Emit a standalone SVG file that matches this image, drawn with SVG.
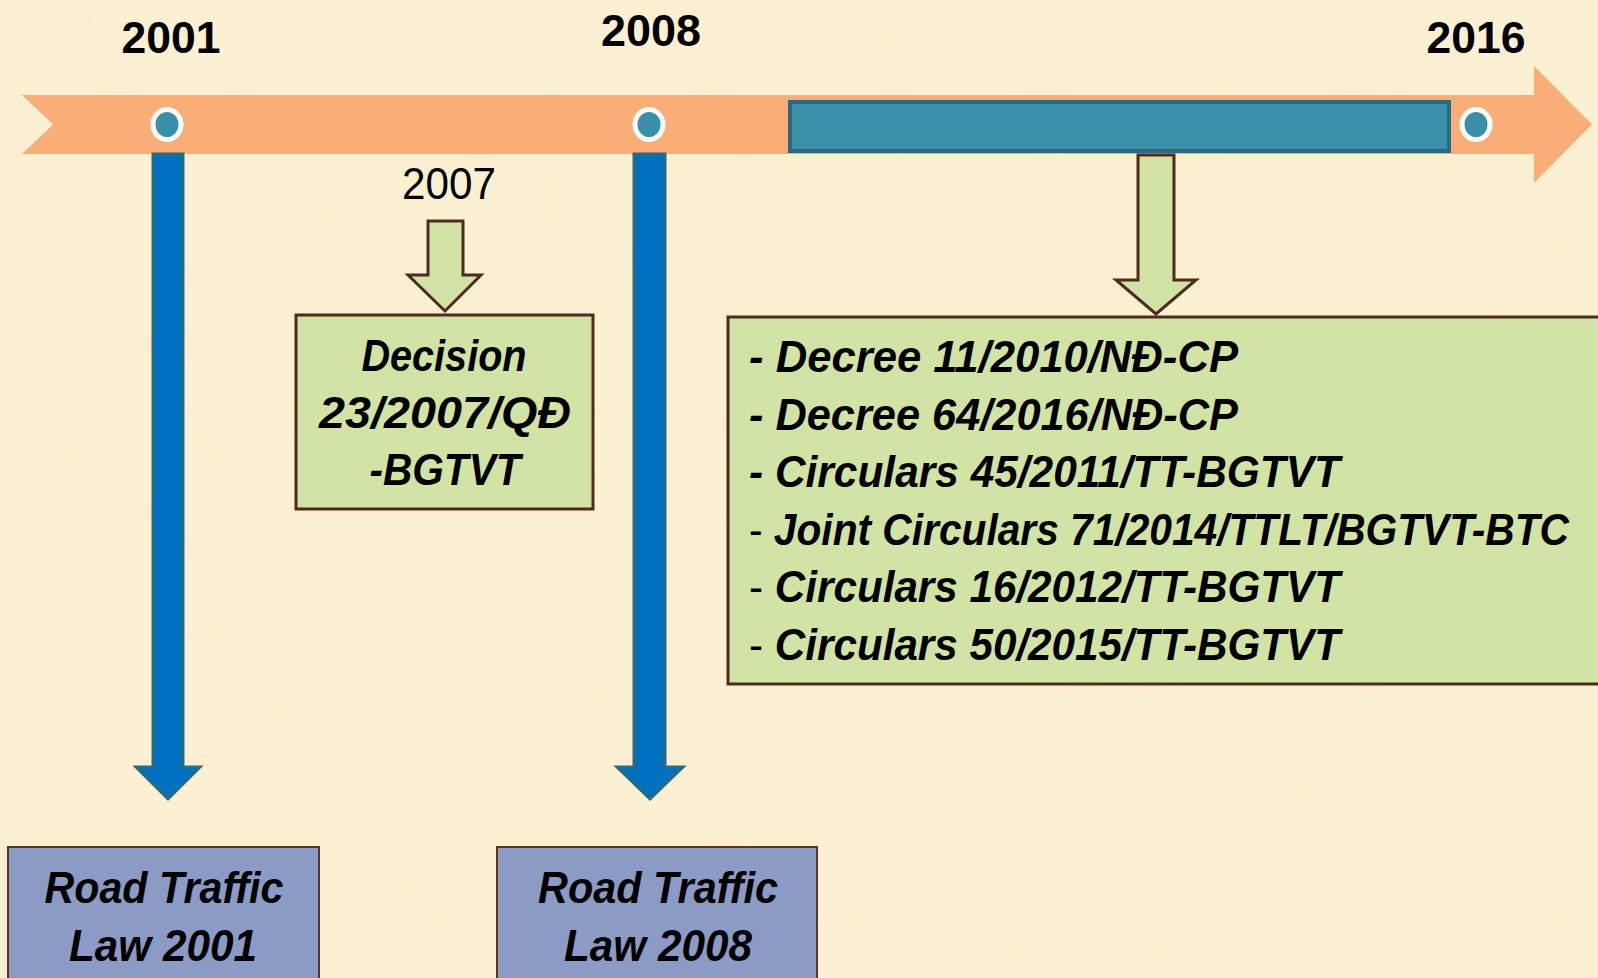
<svg xmlns="http://www.w3.org/2000/svg" width="1598" height="978" viewBox="0 0 1598 978">
<defs>
<filter id="tex" x="0" y="0" width="100%" height="100%">
<feTurbulence type="fractalNoise" baseFrequency="0.012 0.03" numOctaves="3" seed="4" result="n"/>
<feColorMatrix in="n" type="matrix" values="0 0 0 0 0.98  0 0 0 0 0.90  0 0 0 0 0.72  0 0 0 0.35 0"/>
</filter>
<style>
.yr{font-family:"Liberation Sans",Arial,sans-serif;font-weight:bold;font-size:44px;fill:#000}
.t{font-family:"Liberation Sans",Arial,sans-serif;font-weight:bold;font-style:italic;font-size:45px;fill:#000}
.reg{font-weight:normal;font-style:normal}
.green{fill:#d1e3a5;stroke:#4f2b1f;stroke-width:3}
.blue{fill:#0070c0;stroke:#2b6b80;stroke-width:3}
.lav{fill:#8b9bc5;stroke:#5a3526;stroke-width:2}
.dot{fill:#3a8fa8;stroke:#fff;stroke-width:5}
</style>
</defs>
<rect width="1598" height="978" fill="#fcefd0"/>
<rect width="1598" height="978" filter="url(#tex)"/>

<g id="timeline">
<polygon points="22,95 1534,95 1534,66 1592,124.5 1534,183 1534,154 22,154 53,124.5" fill="#f9ae78"/>
<rect x="790" y="102" width="659" height="49" fill="#3b8fa8" stroke="#2a6a7e" stroke-width="4"/>
<ellipse class="dot" cx="167" cy="124.5" rx="14" ry="15"/>
<ellipse class="dot" cx="649" cy="124.5" rx="14" ry="15"/>
<ellipse class="dot" cx="1476" cy="124.5" rx="14" ry="15"/>
<text class="yr" x="171" y="53" text-anchor="middle" textLength="99" lengthAdjust="spacingAndGlyphs">2001</text>
<text class="yr" x="651" y="46" text-anchor="middle" textLength="100" lengthAdjust="spacingAndGlyphs">2008</text>
<text class="yr" x="1476" y="53" text-anchor="middle" textLength="99" lengthAdjust="spacingAndGlyphs">2016</text>
</g>

<g id="connectors">
<path class="blue" d="M153,154 L183,154 L183,767 L200,767 L168,799 L136,767 L153,767 Z"/>
<path class="blue" d="M634,154 L665,154 L665,767 L683,767 L650,799 L617,767 L634,767 Z"/>
<path class="green" d="M428,221 L463,221 L463,275 L481,275 L445,311 L408,275 L428,275 Z"/>
<path class="green" d="M1138,155 L1174,155 L1174,280 L1196,280 L1156,314 L1116,280 L1138,280 Z"/>
</g>

<g id="label-2007">
<text x="449" y="199" text-anchor="middle" font-family="Liberation Sans, Arial, sans-serif" font-size="44" fill="#000" textLength="94" lengthAdjust="spacingAndGlyphs">2007</text>
</g>

<g id="decision">
<rect class="green" x="296" y="315" width="297" height="194" stroke-width="2"/>
<text class="t" x="444" y="371" text-anchor="middle" textLength="165" lengthAdjust="spacingAndGlyphs">Decision</text>
<text class="t" x="445" y="428" text-anchor="middle" textLength="252" lengthAdjust="spacingAndGlyphs">23/2007/QĐ</text>
<text class="t" x="445" y="485" text-anchor="middle" textLength="151" lengthAdjust="spacingAndGlyphs">-BGTVT</text>
</g>

<g id="regulations">
<rect class="green" x="728" y="317" width="880" height="367" stroke-width="2"/>
<text class="t" x="749" y="372" textLength="489" lengthAdjust="spacingAndGlyphs">- Decree 11/2010/NĐ-CP</text>
<text class="t" x="749" y="430" textLength="489" lengthAdjust="spacingAndGlyphs">- Decree 64/2016/NĐ-CP</text>
<text class="t" x="749" y="487" textLength="591" lengthAdjust="spacingAndGlyphs">- Circulars 45/2011/TT-BGTVT</text>
<text class="t" x="749" y="545" textLength="820" lengthAdjust="spacingAndGlyphs"><tspan class="reg">-</tspan> Joint Circulars 71/2014/TTLT/BGTVT-BTC</text>
<text class="t" x="749" y="602" textLength="591" lengthAdjust="spacingAndGlyphs"><tspan class="reg">-</tspan> Circulars 16/2012/TT-BGTVT</text>
<text class="t" x="749" y="660" textLength="591" lengthAdjust="spacingAndGlyphs"><tspan class="reg">-</tspan> Circulars 50/2015/TT-BGTVT</text>
</g>

<g id="law2001">
<rect class="lav" x="8" y="847" width="311" height="140"/>
<text class="t" x="164" y="903" text-anchor="middle" textLength="239" lengthAdjust="spacingAndGlyphs">Road Traffic</text>
<text class="t" x="163" y="961" text-anchor="middle" textLength="188" lengthAdjust="spacingAndGlyphs">Law 2001</text>
</g>

<g id="law2008">
<rect class="lav" x="497" y="847" width="320" height="140"/>
<text class="t" x="658" y="903" text-anchor="middle" textLength="240" lengthAdjust="spacingAndGlyphs">Road Traffic</text>
<text class="t" x="658" y="961" text-anchor="middle" textLength="188" lengthAdjust="spacingAndGlyphs">Law 2008</text>
</g>
</svg>
